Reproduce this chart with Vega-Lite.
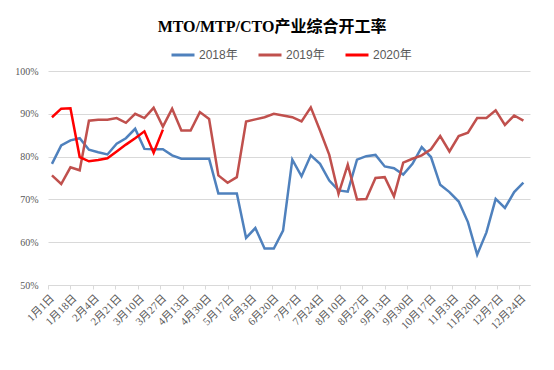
{
  "$schema": "https://vega.github.io/schema/vega-lite/v6.json",
  "autosize": "none",
  "width": 482,
  "height": 214,
  "padding": {"left": 48, "top": 71, "right": 24, "bottom": 85},
  "background": "white",
  "title": {
    "text": "MTO/MTP/CTO产业综合开工率",
    "font": "Liberation Serif, Noto Sans CJK SC",
    "fontSize": 16,
    "fontWeight": "bold",
    "color": "#000000",
    "anchor": "middle",
    "dx": -17,
    "dy": 5,
    "offset": 12
  },
  "config": {
    "view": {"stroke": null},
    "axis": {"labelFont": "Liberation Serif, Noto Sans CJK SC", "labelFontSize": 10, "labelColor": "#595959", "titleFontSize": 10}
  },
  "data": {
    "values": [
      {"date": "2019-01-04", "year": "2018年", "rate": 78.3},
      {"date": "2019-01-11", "year": "2018年", "rate": 82.6},
      {"date": "2019-01-18", "year": "2018年", "rate": 83.8},
      {"date": "2019-01-25", "year": "2018年", "rate": 84.3},
      {"date": "2019-02-01", "year": "2018年", "rate": 81.6},
      {"date": "2019-02-08", "year": "2018年", "rate": 81.0},
      {"date": "2019-02-15", "year": "2018年", "rate": 80.5},
      {"date": "2019-02-22", "year": "2018年", "rate": 83.0},
      {"date": "2019-03-01", "year": "2018年", "rate": 84.3},
      {"date": "2019-03-08", "year": "2018年", "rate": 86.5},
      {"date": "2019-03-15", "year": "2018年", "rate": 81.8},
      {"date": "2019-03-22", "year": "2018年", "rate": 81.7},
      {"date": "2019-03-29", "year": "2018年", "rate": 81.7},
      {"date": "2019-04-05", "year": "2018年", "rate": 80.3},
      {"date": "2019-04-12", "year": "2018年", "rate": 79.5},
      {"date": "2019-04-19", "year": "2018年", "rate": 79.5},
      {"date": "2019-04-26", "year": "2018年", "rate": 79.5},
      {"date": "2019-05-03", "year": "2018年", "rate": 79.5},
      {"date": "2019-05-10", "year": "2018年", "rate": 71.4},
      {"date": "2019-05-17", "year": "2018年", "rate": 71.4},
      {"date": "2019-05-24", "year": "2018年", "rate": 71.4},
      {"date": "2019-05-31", "year": "2018年", "rate": 61.0},
      {"date": "2019-06-07", "year": "2018年", "rate": 63.3},
      {"date": "2019-06-14", "year": "2018年", "rate": 58.5},
      {"date": "2019-06-21", "year": "2018年", "rate": 58.5},
      {"date": "2019-06-28", "year": "2018年", "rate": 62.7},
      {"date": "2019-07-05", "year": "2018年", "rate": 79.3},
      {"date": "2019-07-12", "year": "2018年", "rate": 75.4},
      {"date": "2019-07-19", "year": "2018年", "rate": 80.3},
      {"date": "2019-07-26", "year": "2018年", "rate": 78.3},
      {"date": "2019-08-02", "year": "2018年", "rate": 74.4},
      {"date": "2019-08-09", "year": "2018年", "rate": 72.1},
      {"date": "2019-08-16", "year": "2018年", "rate": 71.8},
      {"date": "2019-08-23", "year": "2018年", "rate": 79.3},
      {"date": "2019-08-30", "year": "2018年", "rate": 80.1},
      {"date": "2019-09-06", "year": "2018年", "rate": 80.4},
      {"date": "2019-09-13", "year": "2018年", "rate": 77.7},
      {"date": "2019-09-20", "year": "2018年", "rate": 77.3},
      {"date": "2019-09-27", "year": "2018年", "rate": 75.8},
      {"date": "2019-10-04", "year": "2018年", "rate": 78.3},
      {"date": "2019-10-11", "year": "2018年", "rate": 82.2},
      {"date": "2019-10-18", "year": "2018年", "rate": 79.9},
      {"date": "2019-10-25", "year": "2018年", "rate": 73.4},
      {"date": "2019-11-01", "year": "2018年", "rate": 71.7},
      {"date": "2019-11-08", "year": "2018年", "rate": 69.5},
      {"date": "2019-11-15", "year": "2018年", "rate": 64.7},
      {"date": "2019-11-22", "year": "2018年", "rate": 57.1},
      {"date": "2019-11-29", "year": "2018年", "rate": 62.3},
      {"date": "2019-12-06", "year": "2018年", "rate": 70.1},
      {"date": "2019-12-13", "year": "2018年", "rate": 68.0},
      {"date": "2019-12-20", "year": "2018年", "rate": 71.7},
      {"date": "2019-12-27", "year": "2018年", "rate": 73.9},
      {"date": "2019-01-04", "year": "2019年", "rate": 75.6},
      {"date": "2019-01-11", "year": "2019年", "rate": 73.6},
      {"date": "2019-01-18", "year": "2019年", "rate": 77.5},
      {"date": "2019-01-25", "year": "2019年", "rate": 76.8},
      {"date": "2019-02-01", "year": "2019年", "rate": 88.4},
      {"date": "2019-02-08", "year": "2019年", "rate": 88.6},
      {"date": "2019-02-15", "year": "2019年", "rate": 88.6},
      {"date": "2019-02-22", "year": "2019年", "rate": 89.0},
      {"date": "2019-03-01", "year": "2019年", "rate": 87.9},
      {"date": "2019-03-08", "year": "2019年", "rate": 90.0},
      {"date": "2019-03-15", "year": "2019年", "rate": 89.0},
      {"date": "2019-03-22", "year": "2019年", "rate": 91.4},
      {"date": "2019-03-29", "year": "2019年", "rate": 87.0},
      {"date": "2019-04-05", "year": "2019年", "rate": 91.2},
      {"date": "2019-04-12", "year": "2019年", "rate": 86.1},
      {"date": "2019-04-19", "year": "2019年", "rate": 86.1},
      {"date": "2019-04-26", "year": "2019年", "rate": 90.4},
      {"date": "2019-05-03", "year": "2019年", "rate": 88.8},
      {"date": "2019-05-10", "year": "2019年", "rate": 75.6},
      {"date": "2019-05-17", "year": "2019年", "rate": 73.9},
      {"date": "2019-05-24", "year": "2019年", "rate": 75.2},
      {"date": "2019-05-31", "year": "2019年", "rate": 88.2},
      {"date": "2019-06-07", "year": "2019年", "rate": 88.7},
      {"date": "2019-06-14", "year": "2019年", "rate": 89.2},
      {"date": "2019-06-21", "year": "2019年", "rate": 90.0},
      {"date": "2019-06-28", "year": "2019年", "rate": 89.6},
      {"date": "2019-07-05", "year": "2019年", "rate": 89.2},
      {"date": "2019-07-12", "year": "2019年", "rate": 88.2},
      {"date": "2019-07-19", "year": "2019年", "rate": 91.5},
      {"date": "2019-07-26", "year": "2019年", "rate": 86.1},
      {"date": "2019-08-02", "year": "2019年", "rate": 80.4},
      {"date": "2019-08-09", "year": "2019年", "rate": 71.3},
      {"date": "2019-08-16", "year": "2019年", "rate": 78.1},
      {"date": "2019-08-23", "year": "2019年", "rate": 70.0},
      {"date": "2019-08-30", "year": "2019年", "rate": 70.1},
      {"date": "2019-09-06", "year": "2019年", "rate": 75.0},
      {"date": "2019-09-13", "year": "2019年", "rate": 75.2},
      {"date": "2019-09-20", "year": "2019年", "rate": 70.7},
      {"date": "2019-09-27", "year": "2019年", "rate": 78.6},
      {"date": "2019-10-04", "year": "2019年", "rate": 79.5},
      {"date": "2019-10-11", "year": "2019年", "rate": 80.3},
      {"date": "2019-10-18", "year": "2019年", "rate": 81.7},
      {"date": "2019-10-25", "year": "2019年", "rate": 84.8},
      {"date": "2019-11-01", "year": "2019年", "rate": 81.2},
      {"date": "2019-11-08", "year": "2019年", "rate": 84.8},
      {"date": "2019-11-15", "year": "2019年", "rate": 85.6},
      {"date": "2019-11-22", "year": "2019年", "rate": 89.0},
      {"date": "2019-11-29", "year": "2019年", "rate": 89.0},
      {"date": "2019-12-06", "year": "2019年", "rate": 90.8},
      {"date": "2019-12-13", "year": "2019年", "rate": 87.4},
      {"date": "2019-12-20", "year": "2019年", "rate": 89.6},
      {"date": "2019-12-27", "year": "2019年", "rate": 88.4},
      {"date": "2019-01-04", "year": "2020年", "rate": 89.2},
      {"date": "2019-01-11", "year": "2020年", "rate": 91.2},
      {"date": "2019-01-18", "year": "2020年", "rate": 91.3},
      {"date": "2019-01-25", "year": "2020年", "rate": 79.9},
      {"date": "2019-02-01", "year": "2020年", "rate": 78.9},
      {"date": "2019-02-08", "year": "2020年", "rate": 79.2},
      {"date": "2019-02-15", "year": "2020年", "rate": 79.6},
      {"date": "2019-02-22", "year": "2020年", "rate": 81.2},
      {"date": "2019-03-01", "year": "2020年", "rate": 82.8},
      {"date": "2019-03-08", "year": "2020年", "rate": 84.3},
      {"date": "2019-03-15", "year": "2020年", "rate": 85.9},
      {"date": "2019-03-22", "year": "2020年", "rate": 80.9},
      {"date": "2019-03-29", "year": "2020年", "rate": 86.3}
    ]
  },
  "mark": {"type": "line", "strokeWidth": 2.5, "interpolate": "linear"},
  "encoding": {
    "x": {
      "field": "date",
      "type": "temporal",
      "scale": {"type": "utc", "domain": [{"year": 2019, "month": 1, "date": 1, "utc": true}, {"year": 2020, "month": 1, "date": 1, "utc": true}], "nice": false},
      "axis": {
        "title": null,
        "grid": false,
        "domain": true,
        "domainColor": "#D9D9D9",
        "ticks": true,
        "tickColor": "#D9D9D9",
        "tickSize": 4,
        "labelAngle": -45,
        "labelOverlap": false,
        "labelPadding": 3,
        "labelFontSize": 11,
        "labelExpr": "utcFormat(datum.value, '%-m月%-d日')",
        "values": [
          {"year": 2019, "month": 1, "date": 1, "utc": true},
          {"year": 2019, "month": 1, "date": 18, "utc": true},
          {"year": 2019, "month": 2, "date": 4, "utc": true},
          {"year": 2019, "month": 2, "date": 21, "utc": true},
          {"year": 2019, "month": 3, "date": 10, "utc": true},
          {"year": 2019, "month": 3, "date": 27, "utc": true},
          {"year": 2019, "month": 4, "date": 13, "utc": true},
          {"year": 2019, "month": 4, "date": 30, "utc": true},
          {"year": 2019, "month": 5, "date": 17, "utc": true},
          {"year": 2019, "month": 6, "date": 3, "utc": true},
          {"year": 2019, "month": 6, "date": 20, "utc": true},
          {"year": 2019, "month": 7, "date": 7, "utc": true},
          {"year": 2019, "month": 7, "date": 24, "utc": true},
          {"year": 2019, "month": 8, "date": 10, "utc": true},
          {"year": 2019, "month": 8, "date": 27, "utc": true},
          {"year": 2019, "month": 9, "date": 13, "utc": true},
          {"year": 2019, "month": 9, "date": 30, "utc": true},
          {"year": 2019, "month": 10, "date": 17, "utc": true},
          {"year": 2019, "month": 11, "date": 3, "utc": true},
          {"year": 2019, "month": 11, "date": 20, "utc": true},
          {"year": 2019, "month": 12, "date": 7, "utc": true},
          {"year": 2019, "month": 12, "date": 24, "utc": true}
        ]
      }
    },
    "y": {
      "field": "rate",
      "type": "quantitative",
      "scale": {"domain": [50, 100], "nice": false, "zero": false},
      "axis": {
        "title": null,
        "values": [50, 60, 70, 80, 90, 100],
        "labelExpr": "datum.value + '%'",
        "grid": true,
        "gridColor": "#D9D9D9",
        "gridWidth": 1,
        "domain": false,
        "ticks": false,
        "labelPadding": 10
      }
    },
    "color": {
      "field": "year",
      "type": "nominal",
      "scale": {"domain": ["2018年", "2019年", "2020年"], "range": ["#4F81BD", "#C0504D", "#FF0000"]},
      "legend": {
        "title": null,
        "orient": "none",
        "direction": "horizontal",
        "legendX": 122,
        "legendY": -29,
        "symbolType": "stroke",
        "symbolSize": 529,
        "symbolStrokeWidth": 3,
        "labelFont": "Liberation Sans, Noto Sans CJK SC",
        "labelFontSize": 12,
        "labelColor": "#595959",
        "labelOffset": 3,
        "columnPadding": 14
      }
    }
  }
}
